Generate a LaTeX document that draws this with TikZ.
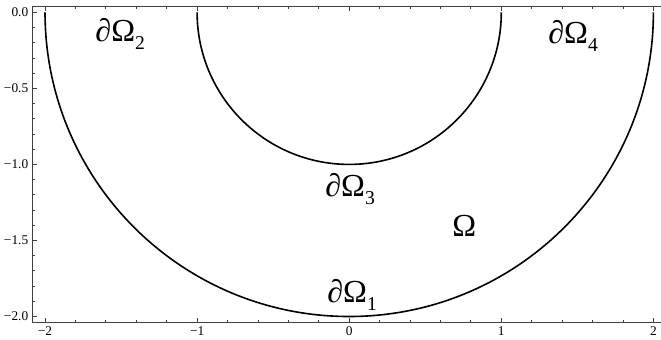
\documentclass[tikz,border=0pt]{standalone}
\usepackage{fontspec}
\setmainfont{Liberation Serif}
\newcommand{\bnd}[1]{∂Ω\raisebox{-4.5pt}{\fontsize{11}{12}\selectfont #1}}
\tikzset{
  curve/.style={line width=0.9pt, black},
  axis/.style={line width=0.5pt, black!75},
  lbl/.style={anchor=base west, inner sep=0pt, font=\fontsize{18}{21}\selectfont},
  ticklbl/.style={inner sep=0pt, font=\fontsize{7.5}{8}\selectfont}
}
\begin{document}
\begin{tikzpicture}[x=3cm, y=3cm]
      \useasboundingbox (-2.296,-2.148) rectangle (2.050,0.081);
      % frame
      \draw[axis] (2.05,-2.041) -- (-2.085,-2.041) -- (-2.085,0.041) -- (2.05,0.041);
      \foreach \t in {-2.0,-1.8,...,2.05} {
        \draw[axis] (\t,-2.041) -- ++(0,0.02);
        \draw[axis] (\t,0.041) -- ++(0,-0.02);
      }
      \foreach \t in {-2,...,2} {
        \draw[axis] (\t,-2.041) -- ++(0,0.033);
        \draw[axis] (\t,0.041) -- ++(0,-0.033);
      }
      \foreach \t in {0,-0.1,...,-2.05} \draw[axis] (-2.085,\t) -- ++(0.02,0);
      \foreach \t in {0,-0.5,...,-2.05} \draw[axis] (-2.085,\t) -- ++(0.033,0);
      % tick labels
      \foreach \t/\l [count=\i] in {-2/−2,-1/−1,0/0,1/1,2/2}
        \node[ticklbl, anchor=base] (xl\i) at (\t,-2.128) {\l};
      \foreach \t/\l [count=\i] in {0/0.0,-0.5/−0.5,-1/−1.0,-1.5/−1.5,-2/−2.0}
        \node[ticklbl, anchor=east] (yl\i) at (-2.108,\t) {\l};
      % boundary arcs
      \draw[curve] (-2,0) arc[start angle=180, end angle=360, radius=2];
      \draw[curve] (-1,0) arc[start angle=180, end angle=360, radius=1];
      % labels
      \node[lbl] (g2) at (-1.671,-0.195) {\bnd{2}};
      \node[lbl] (g4) at (1.307,-0.202) {\bnd{4}};
      \node[lbl] (g3) at (-0.159,-1.214) {\bnd{3}};
      \node[lbl] (om) at (0.676,-1.477) {Ω};
      \node[lbl] (g1) at (-0.146,-1.911) {\bnd{1}};
    \end{tikzpicture}
\end{document}
